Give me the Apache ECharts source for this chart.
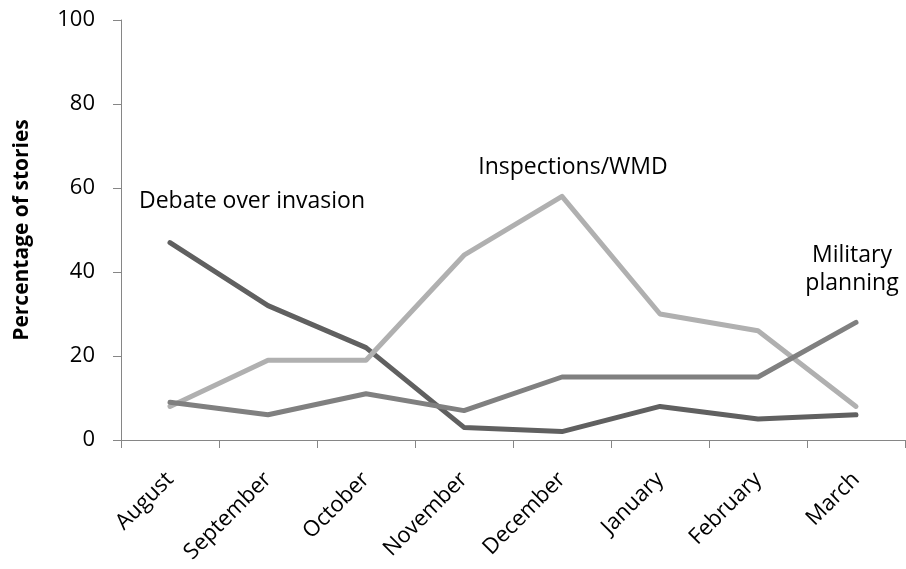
<!DOCTYPE html>
<html>
<head>
<meta charset="utf-8">
<script src="https://cdn.jsdelivr.net/npm/echarts@6/dist/echarts.min.js"></script>
<style>
  html, body { margin: 0; padding: 0; background: #fff; }
  #chart { width: 906px; height: 569px; }
</style>
</head>
<body>
<div id="chart"></div>
<script>
const months = ["August", "September", "October", "November", "December", "January", "February", "March"];
const debate = [47, 32, 22, 3, 2, 8, 5, 6];
const inspections = [8, 19, 19, 44, 58, 30, 26, 8];
const military = [9, 6, 11, 7, 15, 15, 15, 28];
const yTicks = [0, 20, 40, 60, 80, 100];

const font = "'Open Sans', sans-serif";
const axisGray = "#868686";

const note = (text, coord, align, offset) => ({
  markPoint: {
    silent: true,
    symbol: "circle",
    symbolSize: 0,
    animation: false,
    data: [{ coord }],
    label: {
      show: true,
      position: "inside",
      formatter: text,
      align,
      verticalAlign: "middle",
      offset,
      color: "#000",
      fontSize: 23,
      lineHeight: 28,
      fontFamily: font,
    },
  },
});

const line = (name, data, color, extra) => Object.assign({
  name,
  type: "line",
  data,
  symbol: "none",
  animation: false,
  lineStyle: { color, width: 5, cap: "round", join: "round" },
  itemStyle: { color },
}, extra);

const chart = echarts.init(document.getElementById("chart"));
chart.setOption({
  grid: { left: 121, right: 1, top: 20, bottom: 129 },
  xAxis: {
    type: "category",
    data: months,
    axisLine: { lineStyle: { color: axisGray, width: 1 } },
    axisTick: { show: true, length: 8, lineStyle: { color: axisGray } },
    axisLabel: { rotate: 45, margin: 36, color: "#000", fontSize: 22, fontFamily: font },
  },
  yAxis: {
    type: "value",
    min: yTicks[0],
    max: yTicks[yTicks.length - 1],
    interval: 20,
    name: "Percentage of stories",
    nameLocation: "middle",
    nameGap: 88,
    nameTextStyle: { color: "#000", fontSize: 21, fontWeight: "bold", fontFamily: font },
    axisLine: { show: true, lineStyle: { color: axisGray, width: 1 } },
    axisTick: { show: true, length: 8, lineStyle: { color: axisGray } },
    axisLabel: { margin: 26, color: "#000", fontSize: 22, fontFamily: font },
    splitLine: { show: false },
  },
  series: [
    line("Debate over invasion", debate, "#606060",
      note("Debate over invasion", ["August", 56.7], "left", [-31, 0])),
    line("Inspections/WMD", inspections, "#b0b0b0",
      note("Inspections/WMD", ["December", 64.8], "center", [11, 0])),
    line("Military planning", military, "#808080",
      note("Military\nplanning", ["March", 40.7], "center", [-4, 0])),
  ],
});
</script>
</body>
</html>
